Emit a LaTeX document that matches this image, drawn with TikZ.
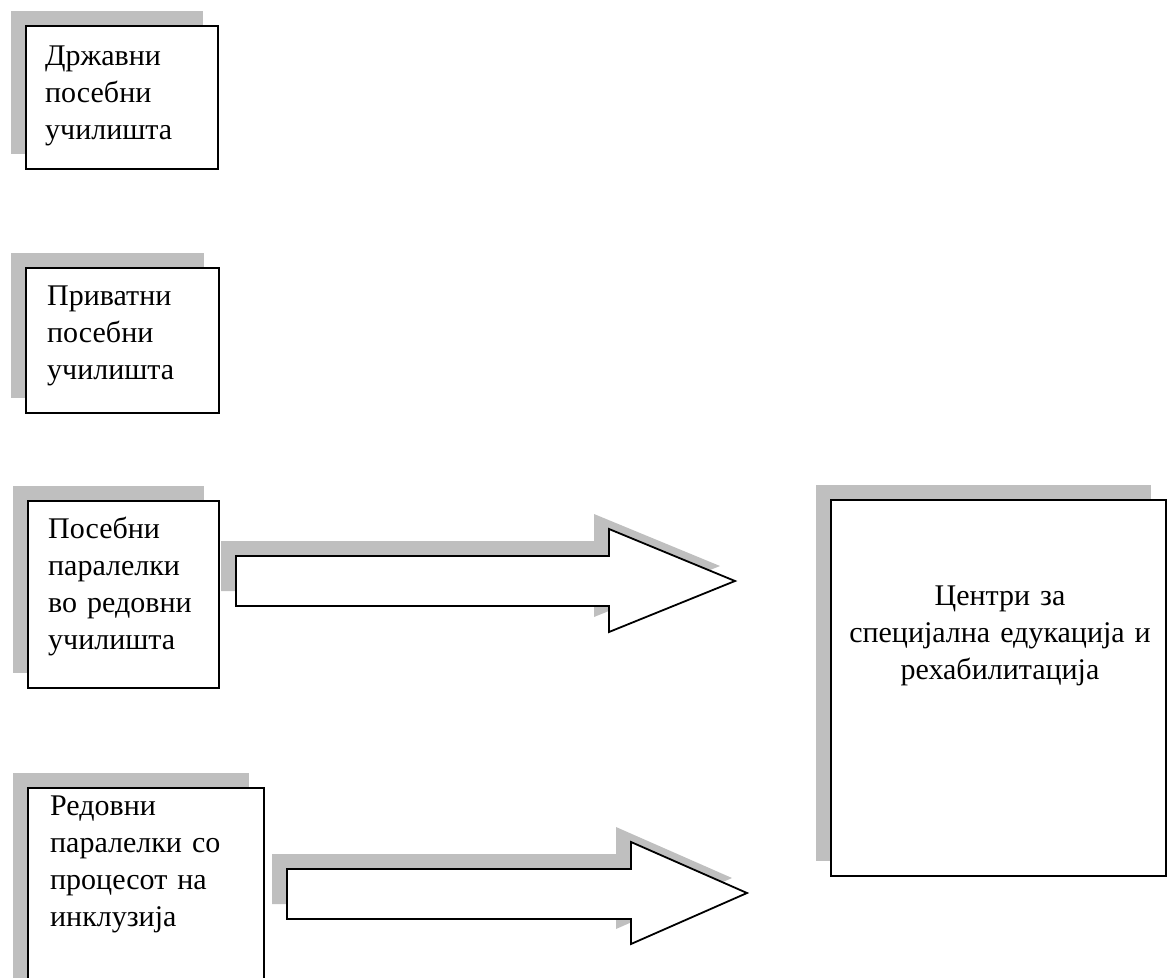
\documentclass[tikz,border=0pt]{standalone}
\usepackage{fontspec}
\setmainfont{Liberation Serif}
\usetikzlibrary{shadows}

\begin{document}
\begin{tikzpicture}[x=1bp,y=-1bp,
  kutija/.style={draw,line width=1.8bp,fill=white,anchor=north west,inner sep=0pt,
    general shadow={fill=black!25,shadow xshift=-15bp,shadow yshift=15bp}},
  tekst/.style={anchor=base west,inner sep=0pt,text width=190bp,align=left,
    font=\fontsize{30bp}{37bp}\selectfont},
  senka/.style={fill=black!25},
  strelka/.style={draw,line width=1.8bp,fill=white}]
\useasboundingbox (0,0) rectangle (1167,978);
\clip (0,0) rectangle (1167,978);

% levi kutii
\node[kutija,minimum width=192bp,minimum height=143bp] (drzavni) at (25,25) {};
\node[tekst] (drzavnitxt) at (45,65) {Државни\\посебни\\училишта};

\node[kutija,minimum width=193bp,minimum height=145bp] (privatni) at (25,267) {};
\node[tekst] (privatnitxt) at (47,305) {Приватни\\посебни\\училишта};

\node[kutija,minimum width=191bp,minimum height=187bp] (posebni) at (27,500) {};
\node[tekst] (posebnitxt) at (48,538) {Посебни\\паралелки\\во редовни\\училишта};

\node[kutija,minimum width=236bp,minimum height=230bp] (redovni) at (27,787) {};
\node[tekst] (redovnitxt) at (50,815) {Редовни\\паралелки со\\процесот на\\инклузија};

% centar
\node[kutija,minimum width=335bp,minimum height=376bp] (centri) at (830,499) {};
\node[tekst,anchor=base,align=center,text width=330bp] (centritxt) at (1000,605)
  {Центри за\\специјална едукација и\\рехабилитација};

% strelki
\fill[senka] (221,541) -- (594,541) -- (594,514) -- (720,566) -- (594,617) -- (594,591) -- (221,591) -- cycle;
\draw[strelka] (236,556) -- (609,556) -- (609,529) -- (735,581) -- (609,632) -- (609,606) -- (236,606) -- cycle;

\fill[senka] (272,854) -- (616,854) -- (616,827) -- (732,878) -- (616,929) -- (616,904) -- (272,904) -- cycle;
\draw[strelka] (287,869) -- (631,869) -- (631,842) -- (747,893) -- (631,944) -- (631,919) -- (287,919) -- cycle;
\end{tikzpicture}
\end{document}
